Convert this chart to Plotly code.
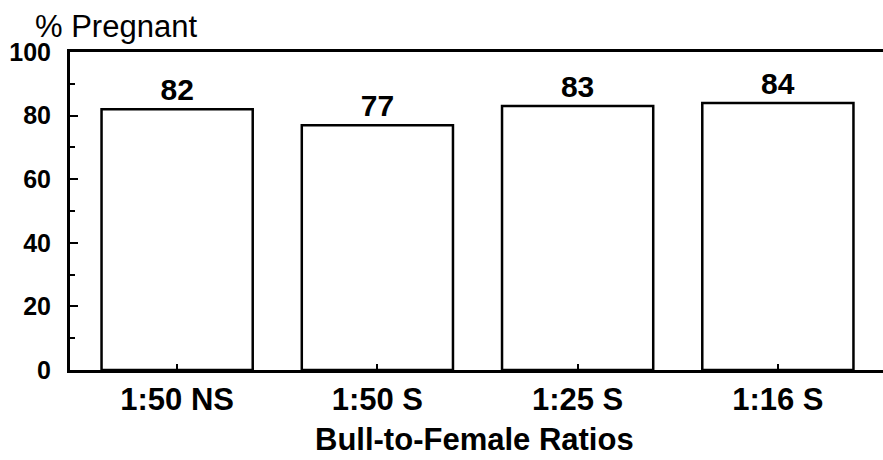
import plotly.graph_objects as go

categories = ["1:50 NS", "1:50 S", "1:25 S", "1:16 S"]
pregnant_pct = [82, 77, 83, 84]
y_ticks = [0, 20, 40, 60, 80, 100]

FONT = "Liberation Sans, Arial, Helvetica, sans-serif"

W, H = 883, 460
L, R, T, B = 70, 0, 52, 90
plot_w = W - L - R
plot_h = H - T - B

fig = go.Figure()
fig.add_trace(go.Bar(
    x=categories,
    y=pregnant_pct,
    text=[str(v) for v in pregnant_pct],
    textposition="outside",
    textfont=dict(family=FONT, size=30, color="black", weight="bold"),
    marker=dict(color="white", line=dict(color="black", width=2.5)),
    cliponaxis=False,
    width=0.755,
))

fig.update_layout(
    width=W, height=H,
    margin=dict(l=L, r=R, t=T, b=B, autoexpand=False),
    paper_bgcolor="white", plot_bgcolor="white",
    showlegend=False,
    font=dict(family=FONT, color="black"),
    xaxis=dict(
        range=[-0.535, 3.525],
        automargin=False,
        showline=True, linecolor="black", linewidth=3, mirror=True,
        ticks="inside", ticklen=6, tickwidth=2, tickcolor="black",
        tickfont=dict(family=FONT, size=31, weight="bold"),
        ticklabelstandoff=0,
        showgrid=False, zeroline=False,
    ),
    yaxis=dict(
        range=[0, 100],
        automargin=False,
        tickvals=y_ticks,
        showline=True, linecolor="black", linewidth=3,
        ticks="inside", ticklen=8, tickwidth=2, tickcolor="black",
        tickfont=dict(family=FONT, size=25, weight="bold"),
        ticklabelstandoff=11,
        minor=dict(dtick=10, ticks="inside", ticklen=5, tickwidth=2, tickcolor="black", showgrid=False),
        showgrid=False, zeroline=False,
    ),
    annotations=[
        dict(text="% Pregnant",
             x=(33 - L) / plot_w, y=(H - B - 26) / plot_h,
             xref="paper", yref="paper",
             showarrow=False, xanchor="left", yanchor="middle",
             font=dict(family=FONT, size=31, color="black")),
        dict(text="Bull-to-Female Ratios",
             x=(474 - L) / plot_w, y=(H - B - 439) / plot_h,
             xref="paper", yref="paper",
             showarrow=False, xanchor="center", yanchor="middle",
             font=dict(family=FONT, size=31, color="black", weight="bold")),
    ],
)

fig.write_html("out.html", config={"displayModeBar": False},
               post_script="document.body.style.margin='0';")
